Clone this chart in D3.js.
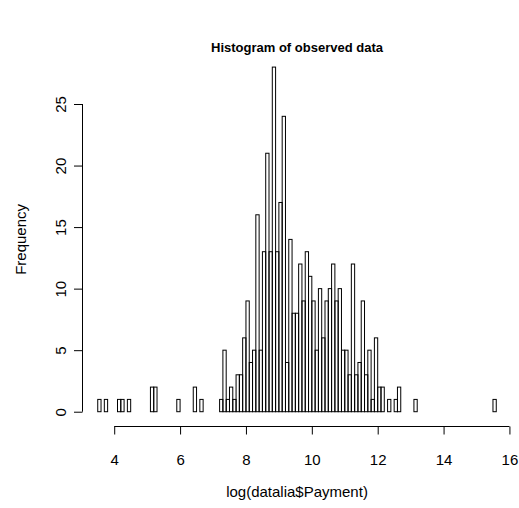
<!DOCTYPE html>
<html>
<head>
<meta charset="utf-8">
<script src="https://cdn.jsdelivr.net/npm/d3@7"></script>
<style>
  html, body { margin: 0; padding: 0; background: #fff; }
  svg text { font-family: "Liberation Sans", Arial, Helvetica, sans-serif; fill: #000; }
</style>
</head>
<body>
<svg id="chart" width="519" height="508"></svg>
<script>
// Histogram of log(datalia$Payment), bins of width 0.1 starting at 3.5
const breakStart = 3.5;
const binWidth = 0.1;
const counts = [
  1, 0, 1, 0, 0, 0, 1, 1, 0, 1,          // 3.5 - 4.4
  0, 0, 0, 0, 0, 0, 2, 2, 0, 0,          // 4.5 - 5.4
  0, 0, 0, 0, 1, 0, 0, 0, 0, 2,          // 5.5 - 6.4
  0, 1, 0, 0, 0, 0, 0, 1, 5, 1,          // 6.5 - 7.4
  2, 1, 3, 3, 6, 9, 4, 5, 16, 5,         // 7.5 - 8.4
  13, 21, 13, 28, 13, 17, 24, 4, 14, 8,  // 8.5 - 9.4
  8, 12, 9, 13, 11, 9, 5, 10, 6, 9,      // 9.5 - 10.4
  10, 12, 9, 10, 5, 5, 3, 12, 3, 4,      // 10.5 - 11.4
  9, 3, 5, 1, 6, 2, 2, 0, 1, 0,          // 11.5 - 12.4
  1, 2, 0, 0, 0, 0, 1, 0, 0, 0,          // 12.5 - 13.4
  0, 0, 0, 0, 0, 0, 0, 0, 0, 0,          // 13.5 - 14.4
  0, 0, 0, 0, 0, 0, 0, 0, 0, 0,          // 14.5 - 15.4
  1                                      // 15.5
];
const xTicks = [4, 6, 8, 10, 12, 14, 16];
const yTicks = [0, 5, 10, 15, 20, 25];
const titleText = "Histogram of observed data";
const xLabel = "log(datalia$Payment)";
const yLabel = "Frequency";

const bins = counts.map((c, i) => ({
  x0: +(breakStart + i * binWidth).toFixed(1),
  x1: +(breakStart + (i + 1) * binWidth).toFixed(1),
  count: c
}));

const svg = d3.select("#chart");
const axisFont = "15px";

// 4% padding around the data range, as in base R plots
const xMin = breakStart, xMax = bins[bins.length - 1].x1;
const xPad = (xMax - xMin) * 0.04;
const yMaxC = d3.max(counts);
const yPad = yMaxC * 0.04;

const x = d3.scaleLinear().domain([xMin - xPad, xMax + xPad]).range([81.8, 512.2]);
const y = d3.scaleLinear().domain([-yPad, yMaxC + yPad]).range([425.5, 53.3]);

// bars (zero-count bins collapse onto the baseline)
svg.append("g")
  .selectAll("rect")
  .data(bins)
  .join("rect")
  .attr("x", d => x(d.x0))
  .attr("width", d => x(d.x1) - x(d.x0))
  .attr("y", d => y(d.count))
  .attr("height", d => y(0) - y(d.count))
  .attr("fill", "none")
  .attr("stroke", "#000")
  .attr("stroke-width", 1);

// x axis: line spans first to last tick only
const xAxisY = 426.5;
const gx = svg.append("g")
  .attr("transform", `translate(0,${xAxisY})`)
  .call(d3.axisBottom(x).tickValues(xTicks).tickSize(8).tickSizeOuter(0).tickFormat(d3.format("d")));
gx.select(".domain").remove();
gx.append("line")
  .attr("x1", x(xTicks[0])).attr("x2", x(xTicks[xTicks.length - 1]))
  .attr("stroke", "#000");
gx.selectAll(".tick line").attr("stroke", "#000");
gx.selectAll(".tick text")
  .attr("y", 38.5)
  .attr("dy", 0)
  .style("font-size", axisFont)
  .style("font-family", "'Liberation Sans', Arial, sans-serif");

// y axis with rotated labels
const yAxisX = 82.5;
const gy = svg.append("g")
  .attr("transform", `translate(${yAxisX},0)`)
  .call(d3.axisLeft(y).tickValues(yTicks).tickSize(8.5).tickSizeOuter(0).tickFormat(d3.format("d")));
gy.select(".domain").remove();
gy.append("line")
  .attr("y1", y(yTicks[0])).attr("y2", y(yTicks[yTicks.length - 1]))
  .attr("stroke", "#000");
gy.selectAll(".tick line").attr("stroke", "#000");
gy.selectAll(".tick text")
  .attr("x", 0).attr("dy", 0)
  .attr("text-anchor", "middle")
  .attr("transform", "translate(-17,0) rotate(-90)")
  .style("font-size", axisFont)
  .style("font-family", "'Liberation Sans', Arial, sans-serif");

// titles
const plotCx = (x.range()[0] + x.range()[1]) / 2;
const plotCy = (y.range()[0] + y.range()[1]) / 2;

svg.append("text")
  .attr("x", plotCx).attr("y", 52)
  .attr("text-anchor", "middle")
  .style("font-size", "13px")
  .style("font-weight", "bold")
  .text(titleText);

svg.append("text")
  .attr("x", plotCx).attr("y", 497)
  .attr("text-anchor", "middle")
  .style("font-size", axisFont)
  .text(xLabel);

svg.append("text")
  .attr("transform", `translate(26,${plotCy}) rotate(-90)`)
  .attr("text-anchor", "middle")
  .style("font-size", axisFont)
  .text(yLabel);
</script>
</body>
</html>
